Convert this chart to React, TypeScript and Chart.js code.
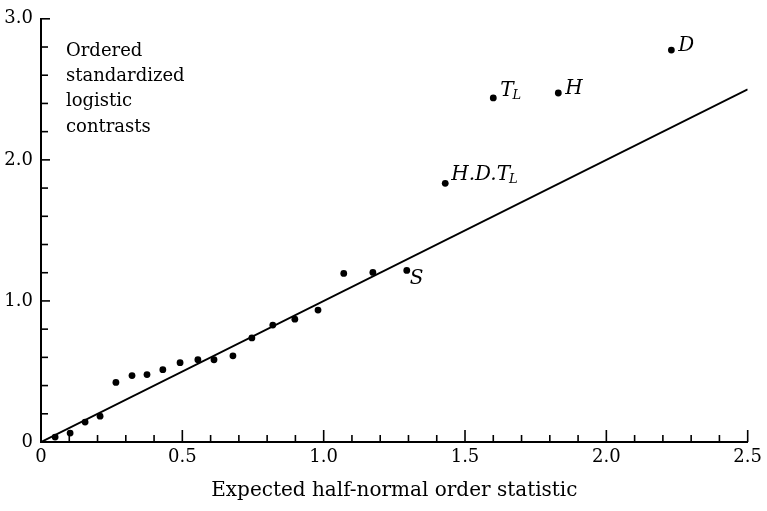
import React, { useEffect, useRef } from "react";
import { Chart, registerables } from "chart.js";

Chart.register(...registerables);

// ---- data ----
const expectedX = [
  0.05, 0.103, 0.156, 0.209, 0.265, 0.322, 0.375, 0.431, 0.492, 0.555, 0.612,
  0.679, 0.746, 0.82, 0.898, 0.98, 1.071, 1.174, 1.294, 1.43, 1.6, 1.83, 2.23,
];
const contrastY = [
  0.035, 0.063, 0.141, 0.183, 0.422, 0.471, 0.478, 0.513, 0.562, 0.583, 0.583,
  0.611, 0.738, 0.829, 0.871, 0.935, 1.195, 1.202, 1.216, 1.834, 2.439, 2.474,
  2.778,
];
const pointLabels = [
  "", "", "", "", "", "", "", "", "", "", "", "", "", "", "", "", "", "",
  "S", "H.D.T_L", "T_L", "H", "D",
];
const refLineX = [0, 2.5];
const refLineY = [0, 2.5];
const xTickValues = [0, 0.5, 1.0, 1.5, 2.0, 2.5];
const xTickLabels = ["0", "0.5", "1.0", "1.5", "2.0", "2.5"];
const yTickValues = [0, 1, 2, 3];
const yTickLabels = ["0", "1.0", "2.0", "3.0"];
const innerText = ["Ordered", "standardized", "logistic", "contrasts"];
const xTitle = "Expected half-normal order statistic";

const SERIF = "'DejaVu Serif', serif";

const decorPlugin = {
  id: "decor",
  afterDraw(chart: any) {
    const ctx = chart.ctx as CanvasRenderingContext2D;
    const xs = chart.scales.x;
    const ys = chart.scales.y;
    const area = chart.chartArea;
    ctx.save();
    ctx.strokeStyle = "#000";
    ctx.lineWidth = 1.6;
    // inward ticks on x axis (every 0.1, longer every 0.5)
    for (let i = 1; i <= 25; i++) {
      const px = xs.getPixelForValue(i / 10);
      const len = i % 5 === 0 ? 12 : 7;
      ctx.beginPath();
      ctx.moveTo(px, area.bottom);
      ctx.lineTo(px, area.bottom - len);
      ctx.stroke();
    }
    // inward ticks on y axis (every 0.2, longer every 1.0)
    for (let i = 1; i <= 15; i++) {
      const py = ys.getPixelForValue(i / 5);
      const len = i % 5 === 0 ? 9 : 7;
      ctx.beginPath();
      ctx.moveTo(area.left, py);
      ctx.lineTo(area.left + len, py);
      ctx.stroke();
    }
    // inner y-axis description
    ctx.fillStyle = "#000";
    ctx.font = `18px ${SERIF}`;
    ctx.textAlign = "left";
    ctx.textBaseline = "alphabetic";
    innerText.forEach((t, k) => {
      ctx.fillText(t, area.left + 25, area.top + 37 + k * 25.3);
    });
    // point labels
    const meta = chart.getDatasetMeta(0);
    pointLabels.forEach((lab, k) => {
      if (!lab) return;
      const el = meta.data[k];
      const [main, sub] = lab.split("_");
      let x = el.x + 7;
      let y = el.y + 1;
      if (lab === "S") {
        x = el.x + 3;
        y = el.y + 14;
      } else if (lab === "H.D.T_L") {
        x = el.x + 6;
        y = el.y - 3;
      } else if (lab === "T_L") {
        y = el.y - 2;
      }
      ctx.font = `italic 20px ${SERIF}`;
      ctx.fillText(main, x, y);
      if (sub) {
        const w = ctx.measureText(main).width;
        ctx.font = `italic 13px ${SERIF}`;
        ctx.fillText(sub, x + w - 1, y + 3);
      }
    });
    ctx.restore();
  },
};

export default function App() {
  const ref = useRef<HTMLCanvasElement | null>(null);
  useEffect(() => {
    if (!ref.current) return;
    const chart = new Chart(ref.current, {
      type: "scatter",
      data: {
        datasets: [
          {
            type: "scatter",
            data: expectedX.map((x, i) => ({ x, y: contrastY[i] })),
            pointRadius: 3.4,
            pointBackgroundColor: "#000",
            pointBorderWidth: 0,
            borderColor: "#000",
          } as any,
          {
            type: "line",
            data: refLineX.map((x, i) => ({ x, y: refLineY[i] })),
            borderColor: "#000",
            borderWidth: 2,
            pointRadius: 0,
            fill: false,
          } as any,
        ],
      },
      options: {
        animation: false,
        responsive: false,
        events: [],
        layout: { padding: { top: 15, right: 19, left: 0, bottom: 0 } },
        plugins: {
          legend: { display: false },
          tooltip: { enabled: false },
        },
        scales: {
          x: {
            type: "linear",
            min: 0,
            max: 2.5,
            afterBuildTicks: (s: any) => {
              s.ticks = xTickValues.map((v) => ({ value: v }));
            },
            afterFit: (s: any) => {
              s.height = 69;
            },
            ticks: {
              callback: (_v: any, i: number) => xTickLabels[i],
              color: "#000",
              font: { family: SERIF, size: 18 },
              padding: 5,
              maxRotation: 0,
            },
            grid: { display: true, drawOnChartArea: false, drawTicks: false },
            border: { display: true, color: "#000", width: 2 },
            title: {
              display: true,
              text: xTitle,
              color: "#000",
              font: { family: SERIF, size: 20 },
              padding: { top: 0, bottom: 8 },
            },
          },
          y: {
            type: "linear",
            min: 0,
            max: 3,
            afterBuildTicks: (s: any) => {
              s.ticks = yTickValues.map((v) => ({ value: v }));
            },
            afterFit: (s: any) => {
              s.width = 41;
            },
            ticks: {
              callback: (_v: any, i: number) => yTickLabels[i],
              color: "#000",
              font: { family: SERIF, size: 18 },
              padding: 8,
            },
            grid: { display: true, drawOnChartArea: false, drawTicks: false },
            border: { display: true, color: "#000", width: 2 },
          },
        },
      },
      plugins: [decorPlugin],
    });
    return () => chart.destroy();
  }, []);
  return (
    <div style={{ position: "fixed", left: 0, top: 0, width: 767, height: 511, background: "#fff" }}>
      <canvas ref={ref} width={767} height={511} style={{ display: "block" }} />
    </div>
  );
}
